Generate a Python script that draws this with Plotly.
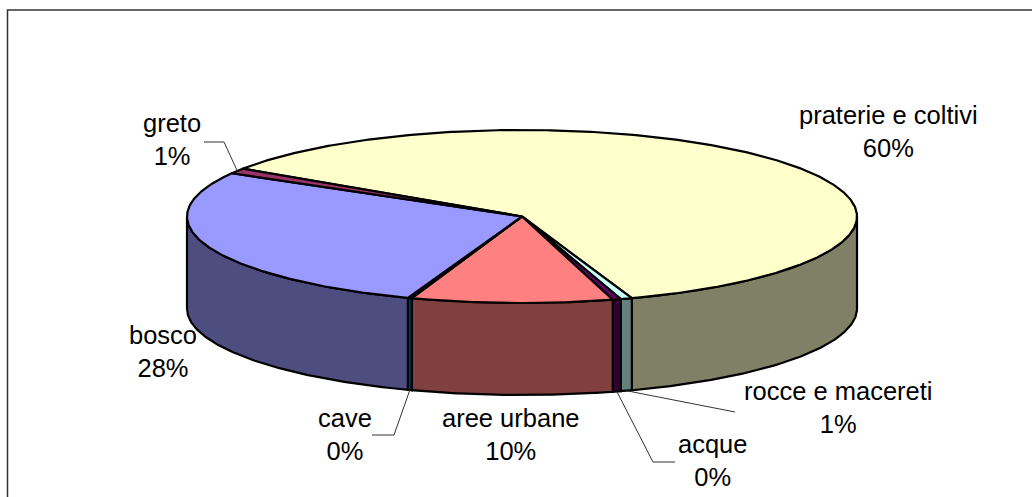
import numpy as np
import plotly.graph_objects as go

# Data (clockwise from the start angle)
categories = ["praterie e coltivi", "rocce e macereti", "acque", "aree urbane", "cave", "bosco", "greto"]
values = [60.35, 0.55, 0.4, 9.7, 0.2, 27.8, 1.0]
top_colors = ["#FFFFCC", "#CCFFFF", "#660066", "#FF8080", "#0066CC", "#9999FF", "#993366"]
side_colors = ["#808066", "#668080", "#330033", "#804040", "#003366", "#4D4D80", "#4D1A33"]

# Pie projection
CX, CY, RX, RY, DEPTH = 522, 216.5, 335, 86.5, 92
START = 303.6

# Label placement: (x, y centre of the text block)
label_pos = {
    "praterie e coltivi": (888, 131), "rocce e macereti": (838, 407), "acque": (712, 460),
    "aree urbane": (511, 434), "cave": (345, 434), "bosco": (163, 351), "greto": (172, 139),
}
# Leader elbows
leaders = {
    "rocce e macereti": [(735, 412)],
    "acque": [(653, 462), (675, 462)],
    "cave": [(394, 435), (372, 435)],
    "greto": [(224, 142), (204, 142)],
}


def ell(theta, dz=0.0):
    t = np.radians(theta)
    return CX + RX * np.sin(t), CY - RY * np.cos(t) + dz


fig = go.Figure()
LINE = dict(color="#000000", width=2.2)

shares = np.array(values) / sum(values) * 360
edges = START + np.concatenate([[0], np.cumsum(shares)])

# Side walls: the part of each slice on the near half (90..270 deg, modulo turns)
for i, name in enumerate(categories):
    a, b = edges[i], edges[i + 1]
    for k in (0, 360):
        lo, hi = max(a, 90 + k), min(b, 270 + k)
        if hi > lo:
            th = np.linspace(lo, hi, 120)
            x1, y1 = ell(th)
            x2, y2 = ell(th[::-1], DEPTH)
            fig.add_trace(go.Scatter(
                x=np.r_[x1, x2, x1[0]], y=np.r_[y1, y2, y1[0]], mode="lines",
                fill="toself", fillcolor=side_colors[i], line=LINE, hoverinfo="skip"))

# Top wedges
for i, name in enumerate(categories):
    th = np.linspace(edges[i], edges[i + 1], max(int(shares[i] * 2), 3))
    x, y = ell(th)
    fig.add_trace(go.Scatter(
        x=np.r_[CX, x, CX], y=np.r_[CY, y, CY], mode="lines",
        fill="toself", fillcolor=top_colors[i], line=LINE, hoverinfo="skip"))

# Leader lines, from each slice's outer edge
for i, name in enumerate(categories):
    if name in leaders:
        mid = (edges[i] + edges[i + 1]) / 2
        x0, y0 = ell(mid, DEPTH if np.cos(np.radians(mid)) < 0 else 0)
        pts = [(x0, y0)] + leaders[name]
        fig.add_trace(go.Scatter(
            x=[p[0] for p in pts], y=[p[1] for p in pts], mode="lines",
            line=dict(color="#333333", width=1), hoverinfo="skip"))

# Labels
for name, v in zip(categories, values):
    x, y = label_pos[name]
    fig.add_annotation(x=x, y=y, text=f"{name}<br>{round(v)}%", showarrow=False,
                       xanchor="center", yanchor="middle", align="center",
                       font=dict(family="Liberation Sans, Arial, sans-serif", size=25.5, color="#000000"))

# Chart frame (right and bottom edges fall outside the picture)
fig.add_shape(type="rect", x0=7.5, y0=10, x1=1200, y1=800,
              line=dict(color="#333333", width=1.5), fillcolor="rgba(0,0,0,0)", layer="below")

fig.update_layout(
    width=1032, height=497, margin=dict(l=0, r=0, t=0, b=0), showlegend=False,
    paper_bgcolor="#FFFFFF", plot_bgcolor="#FFFFFF",
    xaxis=dict(range=[0, 1032], visible=False, fixedrange=True),
    yaxis=dict(range=[497, 0], visible=False, fixedrange=True),
)
fig.write_html("out.html", config=dict(displayModeBar=False),
               post_script="document.body.style.margin='0';document.body.style.overflow='hidden';")
